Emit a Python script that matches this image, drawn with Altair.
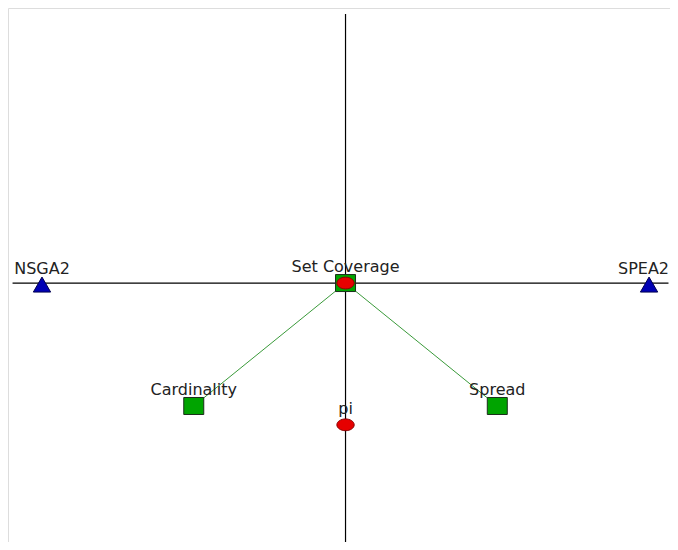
import altair as alt
import pandas as pd

# ---- data (in abstract layout units; centre node at 0,0) ----
node_names = ["NSGA2", "SPEA2", "Set Coverage", "Cardinality", "Spread", "pi"]
node_x = [-1.0, 1.0, 0.0, -0.5, 0.5, 0.0]
node_y = [-0.005, -0.005, 0.0, -0.405, -0.405, -0.467]

triangle_nodes = ["NSGA2", "SPEA2"]
square_nodes = ["Set Coverage", "Cardinality", "Spread"]
circle_nodes = ["Set Coverage", "pi"]
edge_label_nodes = ["SPEA2"]  # label kept inside the right edge

edge_from = ["Set Coverage", "Set Coverage"]
edge_to = ["Cardinality", "Spread"]

# axis cross lines (data units)
h_axis_x = [-1.097, 1.064]
v_axis_y = [0.886, -0.853]

pos = {n: (x, y) for n, x, y in zip(node_names, node_x, node_y)}
nodes = pd.DataFrame({"name": node_names, "x": node_x, "y": node_y})
tri = nodes[nodes["name"].isin(triangle_nodes)]
sq = nodes[nodes["name"].isin(square_nodes)]
circ = nodes[nodes["name"].isin(circle_nodes)]
lab_main = nodes[~nodes["name"].isin(edge_label_nodes)]
lab_edge = nodes[nodes["name"].isin(edge_label_nodes)]
edges = pd.DataFrame({
    "x": [pos[a][0] for a in edge_from],
    "y": [pos[a][1] for a in edge_from],
    "x2": [pos[b][0] for b in edge_to],
    "y2": [pos[b][1] for b in edge_to],
})
haxis = pd.DataFrame({"x": [h_axis_x[0]], "x2": [h_axis_x[1]], "y": [0.0]})
vaxis = pd.DataFrame({"y": [v_axis_y[0]], "y2": [v_axis_y[1]], "x": [0.0]})

xs = alt.Scale(domain=[-1.112, 1.069], nice=False, zero=False)
ys = alt.Scale(domain=[-0.853, 0.906], nice=False, zero=False)
X = lambda f="x": alt.X(f"{f}:Q", scale=xs, axis=None)
Y = lambda f="y": alt.Y(f"{f}:Q", scale=ys, axis=None)

h_rule = alt.Chart(haxis).mark_rule(color="#000000", strokeWidth=1.2).encode(
    x=X(), x2="x2:Q", y=Y())
v_rule = alt.Chart(vaxis).mark_rule(color="#000000", strokeWidth=1.2).encode(
    y=Y(), y2="y2:Q", x=X())
edge_rule = alt.Chart(edges).mark_rule(color="#3a9a3a", strokeWidth=1).encode(
    x=X(), y=Y(), x2="x2:Q", y2="y2:Q")

square_path = "M-1,-0.85L1,-0.85L1,0.85L-1,0.85Z"
ellipse_path = "M-1,0A1,0.68,0,1,0,1,0A1,0.68,0,1,0,-1,0Z"

squares = alt.Chart(sq).mark_point(
    shape=square_path, size=400, filled=True, fill="#00a400", stroke="#1b2e1b",
    strokeWidth=1, opacity=1).encode(x=X(), y=Y())
triangles = alt.Chart(tri).mark_point(
    shape="triangle-up", size=300, filled=True, fill="#0000b4", stroke="#000050",
    strokeWidth=1, opacity=1).encode(x=X(), y=Y())
circles = alt.Chart(circ).mark_point(
    shape=ellipse_path, size=300, filled=True, fill="#e60000", stroke="#8a0000",
    strokeWidth=1, opacity=1).encode(x=X(), y=Y())
text_style = dict(font="DejaVu Sans", fontSize=16, color="#222222", dy=-11,
                  baseline="alphabetic")
labels = alt.Chart(lab_main).mark_text(align="center", **text_style).encode(
    x=X(), y=Y(), text="name:N")
labels_edge = alt.Chart(lab_edge).mark_text(align="right", dx=20, **text_style).encode(
    x=X(), y=Y(), text="name:N")

chart = alt.layer(h_rule, v_rule, edge_rule, squares, triangles, circles,
                  labels, labels_edge).properties(
    width=662, height=534, padding=0, autosize=alt.AutoSizeParams(type="none")
).configure_view(strokeWidth=0, stroke="transparent").configure(background="#ffffff")

chart.save("out.html", embed_options={"renderer": "svg", "actions": False})
